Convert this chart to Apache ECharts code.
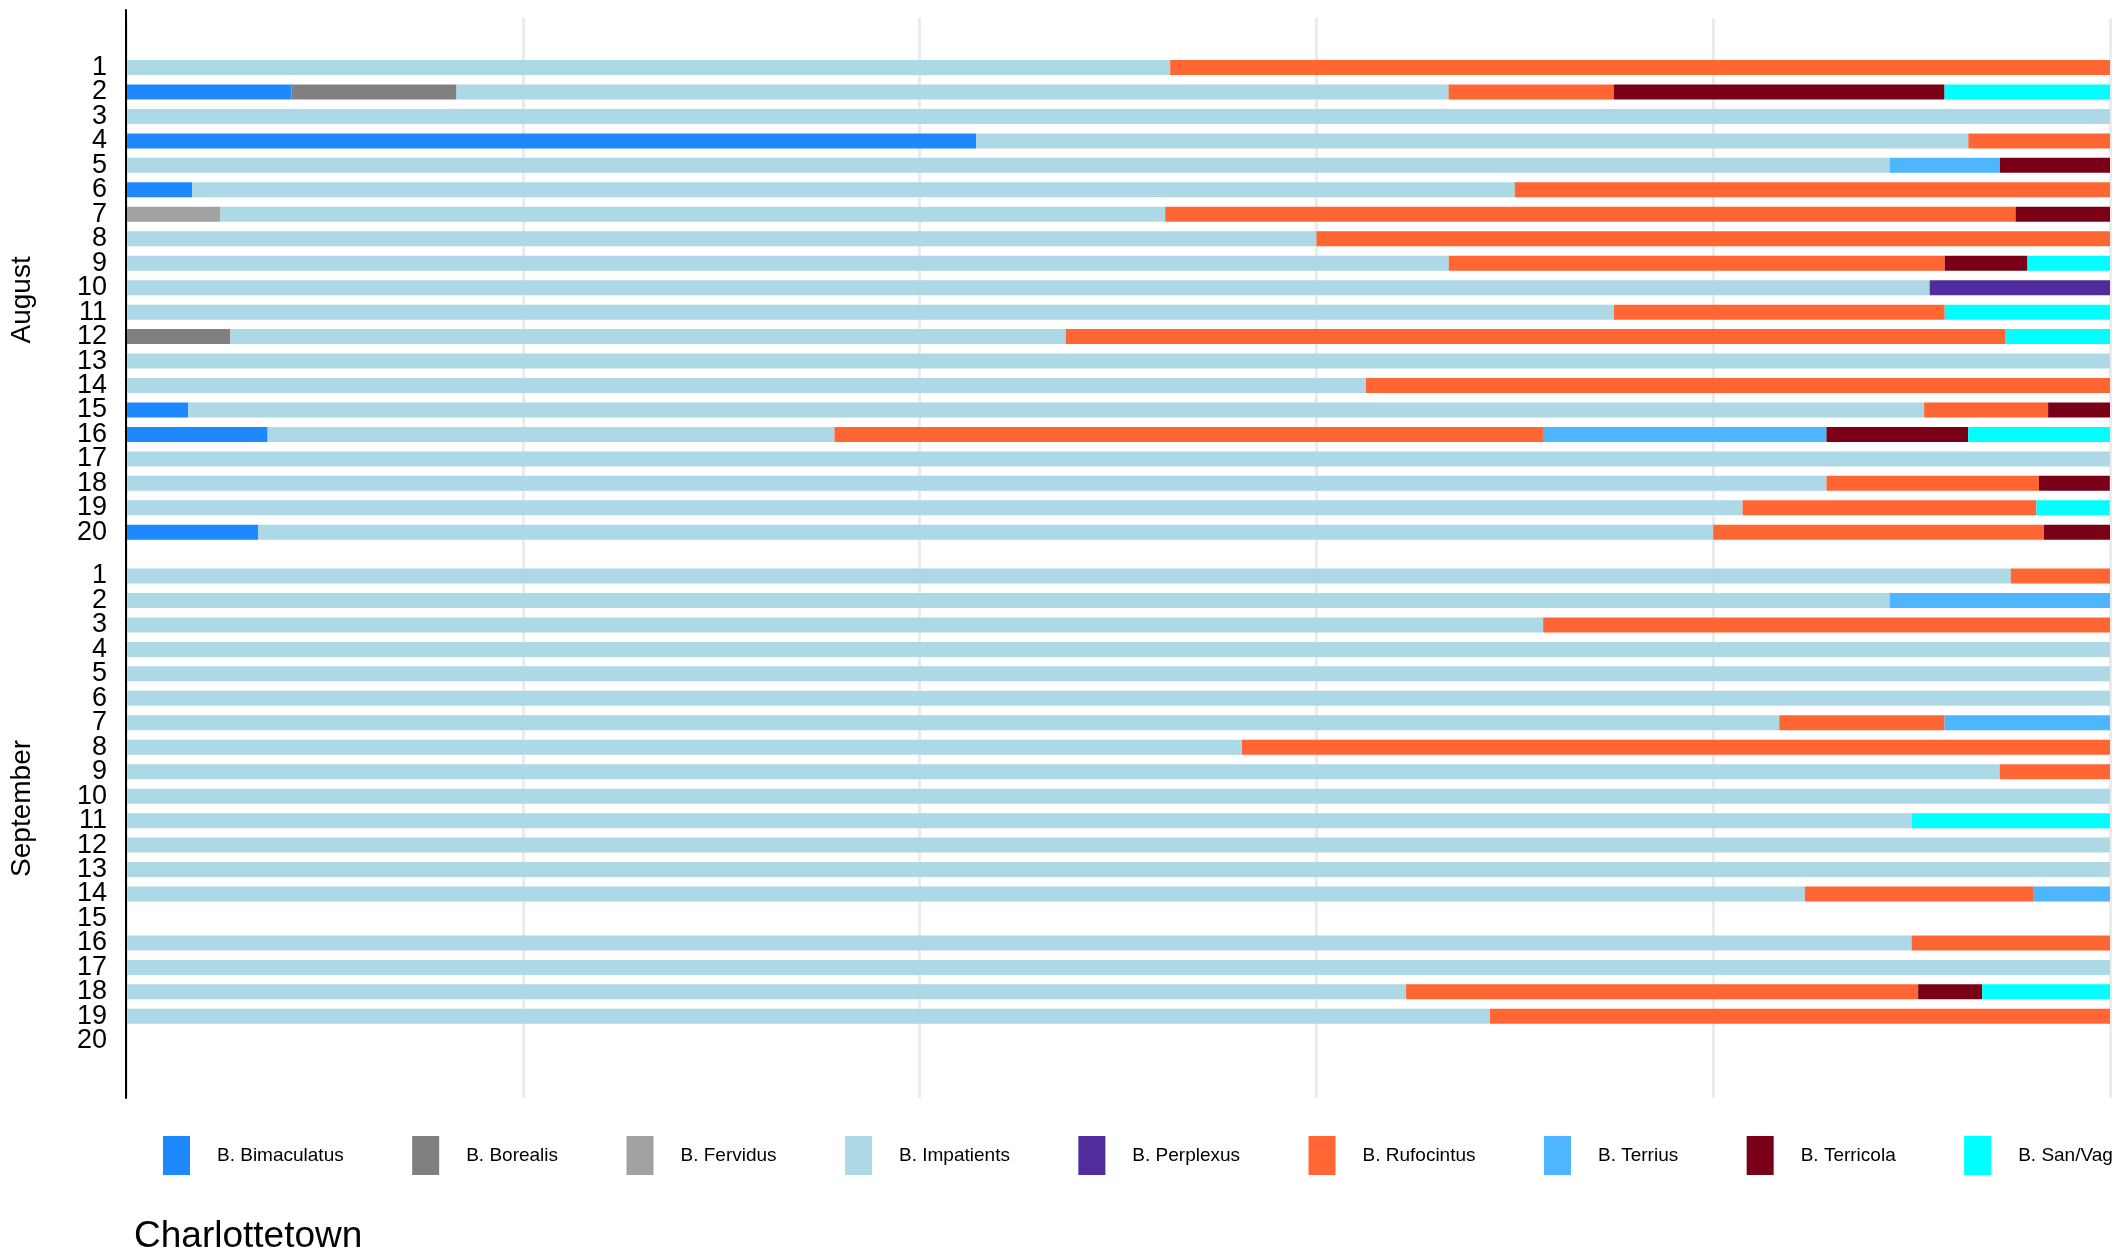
<!DOCTYPE html>
<html>
<head>
<meta charset="utf-8">
<script src="https://cdn.jsdelivr.net/npm/echarts@6/dist/echarts.min.js"></script>
<style>
html,body{margin:0;padding:0;background:#fff;}
#chart{width:2125px;height:1255px;}
</style>
</head>
<body>
<div id="chart"></div>
<script>
// ---- data ----
const days = ['1','2','3','4','5','6','7','8','9','10','11','12','13','14','15','16','17','18','19','20'];
const species = ['B. Bimaculatus','B. Borealis','B. Fervidus','B. Impatients','B. Perplexus','B. Rufocintus','B. Terrius','B. Terricola','B. San/Vag'];
const speciesColors = ['#1E88FF','#808080','#A2A2A2','#ADD8E6','#512C9C','#FF6633','#4DB6FF','#7A0017','#00FFFF'];
const panelNames = ['August','September'];
const xTicks = [0, 0.2, 0.4, 0.6, 0.8, 1];
const cityName = 'Charlottetown';

// August proportions per day
const augBimaculatus = [0,0.0833,0,0.4286,0,0.0333,0,0,0,0,0,0,0,0,0.0313,0.0714,0,0,0,0.0667];
const augBorealis    = [0,0.0833,0,0,0,0,0,0,0,0,0,0.0526,0,0,0,0,0,0,0,0];
const augFervidus    = [0,0,0,0,0,0,0.0476,0,0,0,0,0,0,0,0,0,0,0,0,0];
const augImpatients  = [0.5263,0.5,1,0.5,0.8889,0.6667,0.4762,0.6,0.6667,0.9091,0.75,0.4211,1,0.625,0.875,0.2857,1,0.8571,0.8148,0.7333];
const augPerplexus   = [0,0,0,0,0,0,0,0,0,0.0909,0,0,0,0,0,0,0,0,0,0];
const augRufocintus  = [0.4737,0.0833,0,0.0714,0,0.3,0.4286,0.4,0.25,0,0.1667,0.4737,0,0.375,0.0625,0.3571,0,0.1071,0.1481,0.1667];
const augTerrius     = [0,0,0,0,0.0556,0,0,0,0,0,0,0,0,0,0,0.1429,0,0,0,0];
const augTerricola   = [0,0.1667,0,0,0.0556,0,0.0476,0,0.0417,0,0,0,0,0,0.0312,0.0714,0,0.0357,0,0.0333];
const augSanVag      = [0,0.0834,0,0,0,0,0,0,0.0417,0,0.0833,0.0526,0,0,0,0.0715,0,0,0.0370,0];

// September proportions per day
const sepBimaculatus = [0,0,0,0,0,0,0,0,0,0,0,0,0,0,0,0,0,0,0,0];
const sepBorealis    = [0,0,0,0,0,0,0,0,0,0,0,0,0,0,0,0,0,0,0,0];
const sepFervidus    = [0,0,0,0,0,0,0,0,0,0,0,0,0,0,0,0,0,0,0,0];
const sepImpatients  = [0.95,0.8889,0.7143,1,1,1,0.8333,0.5625,0.9444,1,0.9,1,1,0.8462,0,0.9,1,0.6452,0.6875,0];
const sepPerplexus   = [0,0,0,0,0,0,0,0,0,0,0,0,0,0,0,0,0,0,0,0];
const sepRufocintus  = [0.05,0,0.2857,0,0,0,0.0833,0.4375,0.0556,0,0,0,0,0.1154,0,0.1,0,0.2581,0.3125,0];
const sepTerrius     = [0,0.1111,0,0,0,0,0.0834,0,0,0,0,0,0,0.0384,0,0,0,0,0,0];
const sepTerricola   = [0,0,0,0,0,0,0,0,0,0,0,0,0,0,0,0,0,0.0323,0,0];
const sepSanVag      = [0,0,0,0,0,0,0,0,0,0,0.1,0,0,0,0,0,0,0.0644,0,0];

const augData = [augBimaculatus,augBorealis,augFervidus,augImpatients,augPerplexus,augRufocintus,augTerrius,augTerricola,augSanVag];
const sepData = [sepBimaculatus,sepBorealis,sepFervidus,sepImpatients,sepPerplexus,sepRufocintus,sepTerrius,sepTerricola,sepSanVag];

// ---- chart ----
const chart = echarts.init(document.getElementById('chart'), null, {renderer:'canvas'});
const FONT = 'Liberation Sans, Arial, sans-serif';

const series = [];
[augData, sepData].forEach(function(panel, p){
  panel.forEach(function(vals, i){
    series.push({
      type:'bar', name:species[i], stack:'s'+p,
      xAxisIndex:p+2, yAxisIndex:p+2,
      barWidth:15, data:vals,
      itemStyle:{color:speciesColors[i]},
      emphasis:{disabled:true},
      silent:true
    });
  });
});

const hiddenX = function(idx){
  return {type:'value', gridIndex:idx, min:0, max:1, show:false};
};
const panelY = function(idx, name){
  return {
    type:'category', gridIndex:idx, data:days, inverse:true,
    axisLine:{show:false}, axisTick:{show:false},
    axisLabel:{color:'#000', fontSize:27, fontFamily:FONT, margin:19, interval:0},
    name:name, nameLocation:'middle', nameRotate:90, nameGap:90,
    nameTextStyle:{color:'#000', fontSize:28, fontFamily:FONT}
  };
};

chart.setOption({
  animation:false,
  backgroundColor:'#fff',
  title:{
    text:cityName, left:134, top:1218, padding:0,
    textStyle:{color:'#000', fontSize:37, fontWeight:'normal', fontFamily:FONT}
  },
  legend:{
    data:species, left:163, top:1136, padding:0, width:2000,
    icon:'rect', itemWidth:27, itemHeight:39, itemGap:68.45,
    selectedMode:false,
    textStyle:{color:'#000', fontSize:19, fontFamily:FONT, padding:[0,0,0,22]}
  },
  grid:[
    {left:126, right:15, top:10, bottom:157},   // axis line
    {left:126, right:15, top:18, bottom:157},   // vertical gridlines
    {left:126, right:15, top:55.3, height:489.2}, // August
    {left:126, right:15, top:563.8, height:489.2} // September
  ],
  xAxis:[
    hiddenX(0),
    {type:'value', gridIndex:1, min:0, max:1, interval:0.2,
     axisLine:{show:false}, axisTick:{show:false}, axisLabel:{show:false},
     splitLine:{show:true, lineStyle:{color:'#EBEBEB', width:3}}},
    hiddenX(2),
    hiddenX(3)
  ],
  yAxis:[
    {type:'value', gridIndex:0, z:10, axisLine:{show:true, onZero:false, lineStyle:{color:'#000', width:2}},
     axisTick:{show:false}, axisLabel:{show:false}, splitLine:{show:false}},
    {type:'value', gridIndex:1, show:false},
    panelY(2, panelNames[0]),
    panelY(3, panelNames[1])
  ],
  series:series
});
</script>
</body>
</html>
